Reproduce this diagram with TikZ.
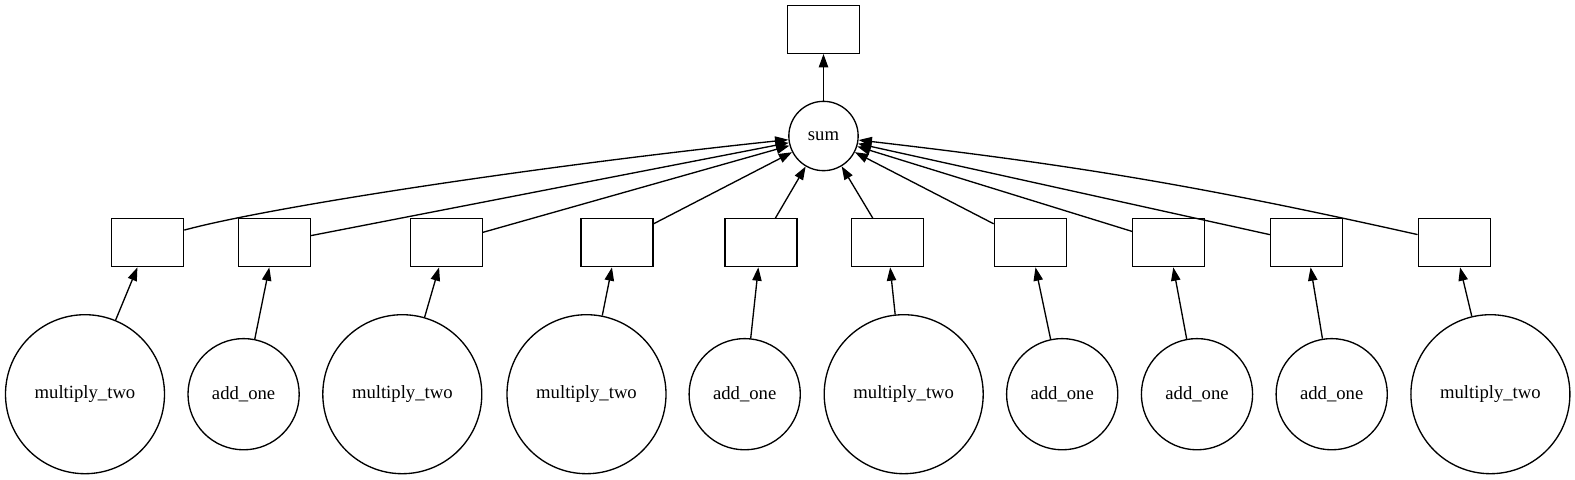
\documentclass[tikz,border=0pt]{standalone}
\usepackage{fontspec}
\setmainfont{Liberation Serif}
\usetikzlibrary{arrows.meta}
\begin{document}
\begin{tikzpicture}[x=0.75pt,y=-0.75pt,
  every node/.style={font=\fontsize{14pt}{16pt}\selectfont},
  box/.style={draw, line width=1pt, rectangle, minimum width=54pt, minimum height=36pt, inner sep=0pt},
  mcirc/.style={draw, line width=1pt, circle, minimum size=119.25pt, inner sep=0pt},
  acirc/.style={draw, line width=1pt, circle, minimum size=83.4pt, inner sep=0pt},
  scirc/.style={draw, line width=1pt, circle, minimum size=52pt, inner sep=0pt},
  arr/.style={-{Triangle[length=10pt,width=7pt]}, line width=1pt}]
\useasboundingbox (0,0) rectangle (1575,479);
\node[box] (top) at (823.5,29.3) {};
\node[scirc] (s) at (823.5,136) {sum};
\foreach \n/\x in {1/147.6,2/274.3,3/446.2,4/616.9,5/761,6/887.5,7/1030.3,8/1168.7,9/1306.5,10/1454.2}
  \node[box] (b\n) at (\x,242.7) {};
\node[mcirc] (c1) at (85,394.2) {multiply\_two};
\node[acirc] (c2) at (243.6,394.2) {add\_one};
\node[mcirc] (c3) at (402.3,394.2) {multiply\_two};
\node[mcirc] (c4) at (586.5,394.2) {multiply\_two};
\node[acirc] (c5) at (744.7,394.2) {add\_one};
\node[mcirc] (c6) at (903.7,394.2) {multiply\_two};
\node[acirc] (c7) at (1062.2,394.2) {add\_one};
\node[acirc] (c8) at (1197,394.2) {add\_one};
\node[acirc] (c9) at (1331.7,394.2) {add\_one};
\node[mcirc] (c10) at (1490.4,394.2) {multiply\_two};
\draw[arr] (s) -- (top);
\draw[arr] (b1.19) .. controls (270.5,206.7) and (540.4,165.7) .. (s.186);
\foreach \n in {2,...,9} \draw[arr] (b\n) -- (s);
\draw[arr] (b10) to[bend right=3] (s);
\foreach \n in {1,...,10} \draw[arr] (c\n) -- (b\n);
\end{tikzpicture}
\end{document}
